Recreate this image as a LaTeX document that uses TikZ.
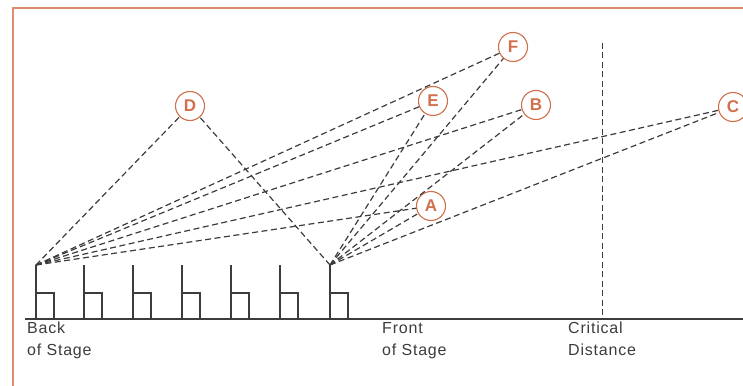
\documentclass[tikz,border=0pt]{standalone}
\usepackage{fontspec}
\setmainfont{Liberation Sans}
\definecolor{framec}{RGB}{222,140,112}
\definecolor{spkc}{RGB}{208,112,76}
\definecolor{inkc}{RGB}{60,60,60}
\begin{document}
\begin{tikzpicture}[x=1pt,y=-1pt,
  frame/.style={draw=framec, line width=2pt},
  ray/.style={draw=inkc, dash pattern=on 6pt off 3.5pt, line width=1.2pt},
  chair/.style={draw=inkc, line width=2pt},
  ground/.style={draw=inkc, line width=1.3pt},
  spk/.style={circle, draw=spkc, line width=1.1pt, minimum size=29pt, inner sep=0pt,
     text=spkc, font=\fontsize{17}{17}\selectfont\bfseries},
  lbl/.style={anchor=north west, align=left, text=inkc, inner sep=0pt,
     font=\fontsize{16}{22}\selectfont\addfontfeature{LetterSpace=5}}
]
\useasboundingbox (0,0) rectangle (743,385);
% frame
\draw[frame] (13,390) -- (13,8) -- (750,8);
% ground
\draw[ground] (25,319) -- (743,319);
% chairs
\foreach \x in {36,84,133,182,231,280,330}{
  \draw[chair] (\x,265) -- (\x,319);
  \draw[chair] (\x,293) -- (\x+18,293) -- (\x+18,319);
}
\coordinate (back) at (36,265);
\coordinate (front) at (330,265);
% critical distance
\coordinate (ct) at (602,43);
\coordinate (cb) at (602,319);
\draw[ray, line width=1pt] (ct) -- (cb);
% speakers
\node[spk] (D) at (190,106) {D};
\node[spk] (E) at (433,101) {E};
\node[spk] (F) at (513,47) {F};
\node[spk] (B) at (536,105) {B};
\node[spk] (C) at (733,107) {C};
\node[spk] (A) at (431,206) {A};
\foreach \s in {D,E,F,B,C,A}{
  \draw[ray] (back) -- (\s);
  \draw[ray] (front) -- (\s);
}
% labels
\node[lbl] (lb) at (27,322) {Back\\of Stage};
\node[lbl] (lf) at (382,322) {Front\\of Stage};
\node[lbl] (lc) at (568,322) {Critical\\Distance};
\end{tikzpicture}
\end{document}
